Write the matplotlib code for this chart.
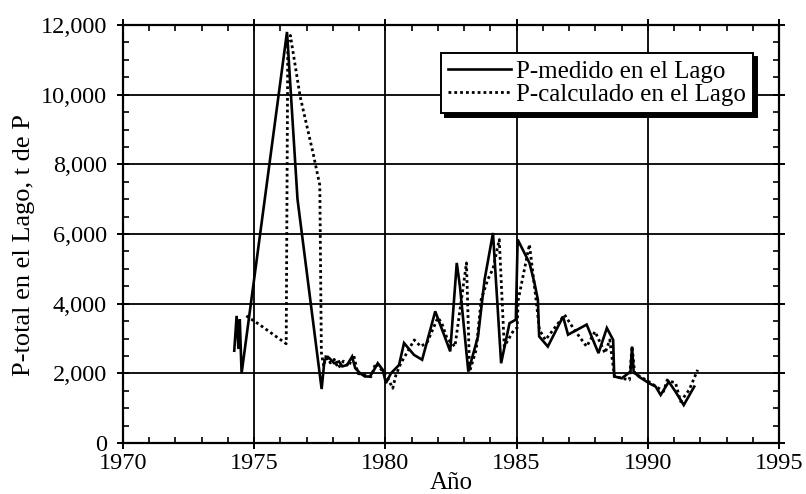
import matplotlib
matplotlib.use("Agg")
import matplotlib.pyplot as plt
from matplotlib.ticker import MultipleLocator, FuncFormatter

plt.rcParams['font.family'] = ['Liberation Serif', 'DejaVu Serif']

# P measured in the lake (t of P)
years_medido = [1974.24, 1974.33, 1974.40, 1974.45, 1974.52, 1976.25, 1976.65,
                1977.57, 1977.68, 1977.86, 1978.05, 1978.23, 1978.36, 1978.54,
                1978.73, 1978.85, 1979.04, 1979.22, 1979.41, 1979.53, 1979.71,
                1979.90, 1980.02, 1980.21, 1980.52, 1980.71, 1981.09, 1981.40,
                1981.90, 1982.47, 1982.72, 1982.84, 1983.16, 1983.53, 1983.78,
                1984.10, 1984.41, 1984.73, 1984.97, 1985.04, 1985.49, 1985.68,
                1985.81, 1985.86, 1986.19, 1986.77, 1986.96, 1987.67, 1988.12,
                1988.44, 1988.68, 1988.72, 1989.01, 1989.34, 1989.40, 1989.46,
                1989.65, 1990.04, 1990.30, 1990.49, 1990.80, 1991.05, 1991.37,
                1991.77]
p_medido = [2650, 3650, 2700, 3550, 2000, 11800, 7000,
            1550, 2390, 2440, 2290, 2340, 2200, 2240,
            2480, 2150, 2000, 1910, 1910, 2050, 2290,
            2100, 1720, 2000, 2240, 2870, 2530, 2390,
            3780, 2630, 5170, 4500, 2050, 3060, 4690,
            6030, 2290, 3440, 3540, 5840, 5170, 4600,
            4120, 3060, 2770, 3630, 3110, 3400, 2580,
            3300, 2960, 1910, 1860, 2050, 2770, 2050,
            1910, 1720, 1620, 1380, 1760, 1480, 1090,
            1620]

# P calculated for the lake (t of P)
years_calculado = [1974.70, 1975.20, 1976.22, 1976.28, 1976.38, 1976.75, 1977.25,
                   1977.50, 1977.56, 1977.65, 1977.75, 1977.90, 1978.05, 1978.20,
                   1978.40, 1978.60, 1978.79, 1978.95, 1979.20, 1979.45, 1979.63,
                   1979.85, 1980.09, 1980.28, 1980.40, 1980.59, 1981.10, 1981.35,
                   1981.60, 1982.00, 1982.15, 1982.35, 1982.65, 1983.09, 1983.21,
                   1983.46, 1983.65, 1983.90, 1984.10, 1984.34, 1984.53, 1984.90,
                   1985.02, 1985.06, 1985.49, 1985.74, 1985.87, 1986.10, 1986.83,
                   1987.20, 1987.67, 1987.99, 1988.37, 1988.55, 1988.73, 1989.30,
                   1989.40, 1989.50, 1990.04, 1990.60, 1990.74, 1991.06, 1991.25,
                   1991.58, 1991.90]
p_calculado = [3650, 3400, 2850, 11500, 11700, 9950, 8300,
               7400, 2600, 2200, 2550, 2300, 2400, 2150,
               2350, 2200, 2530, 2000, 1950, 1900, 2290,
               2100, 1860, 1570, 1950, 2290, 2960, 2770,
               2900, 3600, 3440, 3000, 2770, 5170, 2050,
               2680, 4120, 4690, 5000, 5840, 2770, 3250,
               3300, 4100, 5700, 4120, 3250, 2960, 3680,
               3250, 2770, 3200, 2580, 2960, 1910, 1810,
               2770, 2000, 1760, 1480, 1810, 1720, 1190,
               1530, 2100]

label_medido = "P-medido en el Lago"
label_calculado = "P-calculado en el Lago"

fig = plt.figure(figsize=(8.06, 4.94), dpi=100)
ax = fig.add_axes([0.1526, 0.1032, 0.8139, 0.8462])

ax.plot(years_medido, p_medido, color='black', lw=1.9, solid_joinstyle='miter',
        label=label_medido, zorder=3)
ax.plot(years_calculado, p_calculado, color='black', lw=2.0,
        linestyle=(0, (1.0, 1.1)), label=label_calculado, zorder=3)

ax.set_xlim(1970, 1995)
ax.set_ylim(0, 12000)

ax.xaxis.set_major_locator(MultipleLocator(5))
ax.xaxis.set_minor_locator(MultipleLocator(1))
ax.yaxis.set_major_locator(MultipleLocator(2000))
ax.yaxis.set_minor_locator(MultipleLocator(500))
ax.yaxis.set_major_formatter(FuncFormatter(lambda v, p: f"{v:,.0f}"))

ax.grid(True, which='major', color='black', lw=1.3)
ax.set_axisbelow(True)

for s in ax.spines.values():
    s.set_linewidth(1.6)

ax.tick_params(which='major', direction='inout', length=9, width=1.4,
               labelsize=17.5, top=True, right=True, pad=3)
ax.tick_params(axis='y', which='major', pad=7)
ax.tick_params(which='minor', direction='in', length=4, width=1.2,
               top=True, right=True)

ax.set_xlabel("Año", fontsize=18, labelpad=-2)
ax.set_ylabel("P-total en el Lago, t de P", fontsize=19)
ax.yaxis.set_label_coords(-0.134, 0.474)

leg = ax.legend(loc='upper right', bbox_to_anchor=(0.9604, 0.933),
                fontsize=18, frameon=True, fancybox=False, edgecolor='black',
                framealpha=1, borderpad=0.3, labelspacing=0.0,
                handlelength=2.5, handletextpad=0.2, borderaxespad=0,
                shadow={'ox': 3, 'oy': -3, 'facecolor': 'black',
                        'edgecolor': 'black', 'alpha': 1})
leg.get_frame().set_linewidth(1.4)
leg.set_zorder(5)

fig.savefig("out.png", dpi=100)
